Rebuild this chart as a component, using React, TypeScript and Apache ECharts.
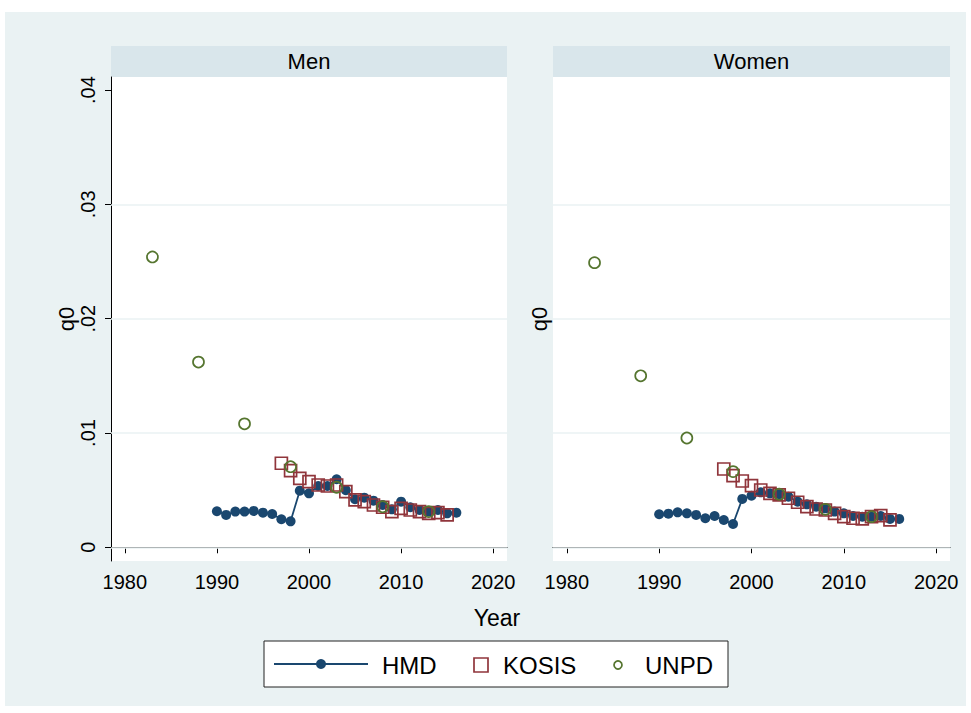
import React, { useEffect, useRef } from "react";
import * as echarts from "echarts";

const hmdYears = [1990, 1991, 1992, 1993, 1994, 1995, 1996, 1997, 1998, 1999, 2000, 2001, 2002, 2003, 2004, 2005, 2006, 2007, 2008, 2009, 2010, 2011, 2012, 2013, 2014, 2015, 2016];
const kosisYears = [1997, 1998, 1999, 2000, 2001, 2002, 2003, 2004, 2005, 2006, 2007, 2008, 2009, 2010, 2011, 2012, 2013, 2014, 2015];
const unpdYears = [1983, 1988, 1993, 1998, 2003, 2008, 2013];

const menHMD = [0.00315, 0.00283, 0.00312, 0.00312, 0.00318, 0.00303, 0.00291, 0.00245, 0.00227, 0.00495, 0.00472, 0.00536, 0.00536, 0.00595, 0.0050, 0.0042, 0.00434, 0.00408, 0.0037, 0.00332, 0.00399, 0.0035, 0.00326, 0.00312, 0.00326, 0.00297, 0.00303];
const menKOSIS = [0.00735, 0.0067, 0.00603, 0.00574, 0.00545, 0.00536, 0.00545, 0.00487, 0.00414, 0.00399, 0.0037, 0.0035, 0.00312, 0.00341, 0.00326, 0.00312, 0.00297, 0.00303, 0.00283];
const menUNPD = [0.0254, 0.0162, 0.0108, 0.00705, 0.00525, 0.00355, 0.00312];

const womenHMD = [0.00289, 0.00294, 0.00306, 0.00297, 0.00283, 0.00254, 0.00274, 0.00239, 0.00204, 0.00423, 0.00451, 0.00481, 0.00472, 0.00464, 0.00443, 0.00399, 0.00376, 0.00355, 0.00341, 0.00312, 0.00297, 0.00274, 0.00268, 0.00268, 0.00274, 0.00248, 0.00248];
const womenKOSIS = [0.00685, 0.00627, 0.0058, 0.00539, 0.00501, 0.00472, 0.00458, 0.00429, 0.00394, 0.00355, 0.00335, 0.00326, 0.00297, 0.00268, 0.00254, 0.00248, 0.00268, 0.00277, 0.00239];
const womenUNPD = [0.0249, 0.0150, 0.00956, 0.00662, 0.00464, 0.00332, 0.00268];

const panelTitles = ["Men", "Women"];
const xTicks = [1980, 1990, 2000, 2010, 2020];
const yTicks = [0, 0.01, 0.02, 0.03, 0.04];
const yTickLabels = ["0", ".01", ".02", ".03", ".04"];
const gridValues = [0, 0.01, 0.02, 0.03];
const seriesNames = ["HMD", "KOSIS", "UNPD"];

const NAVY = "#1a476f";
const MAROON = "#90353b";
const GREEN = "#55752f";
const BG = "#eaf2f3";
const STRIP = "#d9e6eb";
const FONT = "Liberation Sans, Arial, Helvetica, sans-serif";

const zip = (xs: number[], ys: number[]) => xs.map((x, i) => [x, ys[i]]);

export default function App() {
  const ref = useRef<HTMLDivElement>(null);
  useEffect(() => {
    if (!ref.current) return;
    const chart = echarts.init(ref.current, undefined, { renderer: "svg" });
    const grids = [
      { left: 111, top: 77, width: 396, height: 484 },
      { left: 553, top: 77, width: 397, height: 484 },
    ];
    const panels = [
      { hmd: menHMD, kosis: menKOSIS, unpd: menUNPD },
      { hmd: womenHMD, kosis: womenKOSIS, unpd: womenUNPD },
    ];
    const xAxis = grids.map((_, i) => ({
      type: "value",
      gridIndex: i,
      min: 1978.5,
      max: 2021.5,
      axisLine: { show: true, lineStyle: { color: "#000", width: 1 } },
      axisTick: { show: true, length: 6, inside: false, customValues: xTicks, lineStyle: { color: "#000" } },
      axisLabel: {
        show: true,
        customValues: xTicks,
        color: "#000",
        fontSize: 20,
        fontFamily: FONT,
        margin: 11,
        formatter: (v: number) => String(Math.round(v)),
      },
      splitLine: { show: false },
    }));
    const yAxis = grids.map((_, i) => ({
      type: "value",
      gridIndex: i,
      min: -0.0012,
      max: 0.04114,
      name: "q0",
      nameLocation: "middle",
      nameRotate: 90,
      nameGap: i === 0 ? 28 : 3,
      nameTextStyle: { color: "#000", fontSize: 22, fontFamily: FONT },
      axisLine: { show: i === 0, lineStyle: { color: "#000", width: 1 } },
      axisTick: { show: i === 0, length: 6, customValues: yTicks, lineStyle: { color: "#000" } },
      axisLabel: {
        show: i === 0,
        customValues: yTicks,
        rotate: 90,
        color: "#000",
        fontSize: 20,
        fontFamily: FONT,
        margin: 13,
        formatter: (v: number) => {
          const k = yTicks.findIndex((t) => Math.abs(t - v) < 1e-9);
          return k >= 0 ? yTickLabels[k] : "";
        },
      },
      splitLine: { show: false },
    }));
    const series: any[] = [];
    panels.forEach((p, i) => {
      series.push({
        name: seriesNames[0],
        type: "line",
        xAxisIndex: i,
        yAxisIndex: i,
        data: zip(hmdYears, p.hmd),
        symbol: "circle",
        symbolSize: 10,
        showAllSymbol: true,
        lineStyle: { color: NAVY, width: 1.8 },
        itemStyle: { color: NAVY },
        z: 3,
        markLine: {
          silent: true,
          symbol: "none",
          label: { show: false },
          lineStyle: { color: BG, width: 1.5, type: "solid" },
          data: gridValues.map((v) => ({ yAxis: v })),
          z: 1,
        },
      });
      series.push({
        name: seriesNames[1],
        type: "scatter",
        xAxisIndex: i,
        yAxisIndex: i,
        data: zip(kosisYears, p.kosis),
        symbol: "rect",
        symbolSize: 12,
        itemStyle: { color: "rgba(0,0,0,0)", borderColor: MAROON, borderWidth: 1.7, opacity: 1 },
        z: 4,
      });
      series.push({
        name: seriesNames[2],
        type: "scatter",
        xAxisIndex: i,
        yAxisIndex: i,
        data: zip(unpdYears, p.unpd),
        symbol: "circle",
        symbolSize: 11,
        itemStyle: { color: "rgba(0,0,0,0)", borderColor: GREEN, borderWidth: 1.7, opacity: 1 },
        z: 5,
      });
    });

    const legendY = 664;
    const graphic: any[] = [
      { type: "rect", z: -10, shape: { x: 5, y: 12, width: 961, height: 694 }, style: { fill: BG }, silent: true },
      ...grids.map((g) => ({
        type: "rect",
        z: -5,
        shape: { x: g.left, y: 46, width: g.width, height: 31 },
        style: { fill: STRIP },
        silent: true,
      })),
      ...grids.map((g, i) => ({
        type: "text",
        x: g.left + g.width / 2,
        y: 61,
        style: { text: panelTitles[i], fill: "#000", fontSize: 22, fontFamily: FONT, textAlign: "center", textVerticalAlign: "middle" },
      })),
      {
        type: "text",
        x: 497,
        y: 618,
        style: { text: "Year", fill: "#000", fontSize: 23, fontFamily: FONT, textAlign: "center", textVerticalAlign: "middle" },
      },
      { type: "rect", shape: { x: 264, y: 641, width: 464, height: 46 }, style: { fill: "#fff", stroke: "#222", lineWidth: 1 } },
      { type: "line", shape: { x1: 274, y1: legendY, x2: 368, y2: legendY }, style: { stroke: NAVY, lineWidth: 2 } },
      { type: "circle", shape: { cx: 321, cy: legendY, r: 5 }, style: { fill: NAVY } },
      { type: "text", x: 382, y: legendY + 1, style: { text: seriesNames[0], fill: "#000", fontSize: 24, fontFamily: FONT, textVerticalAlign: "middle" } },
      { type: "rect", shape: { x: 474, y: 658, width: 14, height: 14 }, style: { fill: "none", stroke: MAROON, lineWidth: 1.7 } },
      { type: "text", x: 503, y: legendY + 1, style: { text: seriesNames[1], fill: "#000", fontSize: 24, fontFamily: FONT, textVerticalAlign: "middle" } },
      { type: "circle", shape: { cx: 618, cy: legendY + 1, r: 4 }, style: { fill: "none", stroke: GREEN, lineWidth: 1.7 } },
      { type: "text", x: 645, y: legendY + 1, style: { text: seriesNames[2], fill: "#000", fontSize: 24, fontFamily: FONT, textVerticalAlign: "middle" } },
    ];

    chart.setOption({
      animation: false,
      backgroundColor: "#fff",
      grid: grids.map((g) => ({ ...g, show: true, backgroundColor: "#fff", borderWidth: 0, containLabel: false })),
      xAxis,
      yAxis,
      series,
      graphic,
    } as any);
    return () => chart.dispose();
  }, []);
  return <div ref={ref} style={{ position: "absolute", left: 0, top: 0, width: 971, height: 713 }} />;
}
